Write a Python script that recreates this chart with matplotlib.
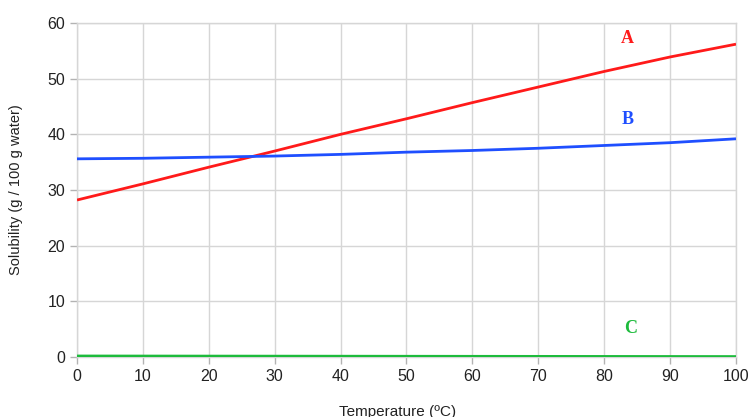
import matplotlib
matplotlib.use("Agg")
import matplotlib.pyplot as plt

temps = [0, 10, 20, 30, 40, 50, 60, 70, 80, 90, 100]
sol_a = [28.2, 31.1, 34.1, 37.0, 40.0, 42.8, 45.7, 48.5, 51.3, 53.9, 56.2]
sol_b = [35.6, 35.7, 35.9, 36.1, 36.4, 36.8, 37.1, 37.5, 38.0, 38.5, 39.2]
sol_c = [0.18, 0.17, 0.16, 0.15, 0.14, 0.13, 0.12, 0.11, 0.10, 0.09, 0.08]
series_labels = ["A", "B", "C"]
label_pos = [(83.5, 57.3), (83.5, 42.6), (84.0, 5.2)]
colors = ["#ff1a1a", "#1f4fff", "#1dbb3c"]

plt.rcParams['font.family'] = ['Liberation Sans', 'DejaVu Sans']
fig = plt.figure(figsize=(7.52, 4.17), dpi=100)
ax = fig.add_axes([0.1024, 0.1439, 0.8763, 0.8009])

for ys, c in zip([sol_a, sol_b, sol_c], colors):
    ax.plot(temps, ys, color=c, lw=2.0, solid_capstyle='butt', zorder=3)

for lab, (x, y), c in zip(series_labels, label_pos, colors):
    ax.text(x, y, lab, color=c, fontsize=13, fontweight='bold',
            family=['Liberation Serif', 'DejaVu Serif'], ha='center', va='center')

ax.set_xlim(0, 100)
ax.set_ylim(0, 60)
ax.set_xticks(range(0, 101, 10))
ax.set_yticks(range(0, 61, 10))
ax.grid(True, color='#d6d6d6', lw=1.0, zorder=0)
for s in ax.spines.values():
    s.set_color('#d6d6d6')
    s.set_linewidth(1.0)
ax.tick_params(axis='both', colors='#b3b3b3', labelcolor='#222222', labelsize=11.5, length=5, width=1)
ax.set_xlabel("Temperature (ºC)", fontsize=11, color='#222222')
ax.set_ylabel("Solubility (g / 100 g water)", fontsize=10.5, color='#222222')
ax.xaxis.set_label_coords(0.487, -0.143)
ax.yaxis.set_label_coords(-0.082, 0.5)

fig.savefig("out.png", dpi=100)
